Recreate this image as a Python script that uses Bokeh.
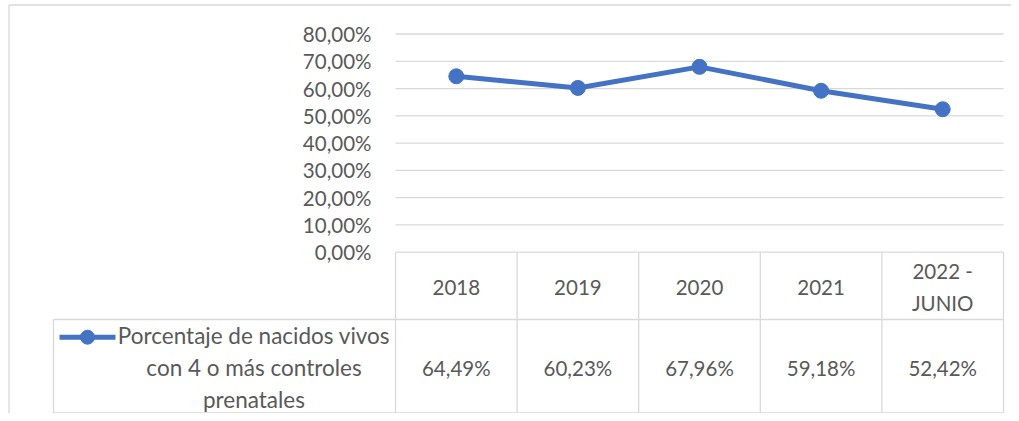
from bokeh.plotting import figure
from bokeh.models import ColumnDataSource, Range1d
from bokeh.core.properties import value
from bokeh.embed import file_html
from bokeh.resources import INLINE

# ---- data ----
categories = ["2018", "2019", "2020", "2021", "2022 -\nJUNIO"]
values = [64.49, 60.23, 67.96, 59.18, 52.42]
value_labels = ["64,49%", "60,23%", "67,96%", "59,18%", "52,42%"]
series_name = "Porcentaje de nacidos vivos\ncon 4 o más controles\nprenatales"
y_ticks = [0, 10, 20, 30, 40, 50, 60, 70, 80]
y_tick_labels = ["0,00%", "10,00%", "20,00%", "30,00%", "40,00%",
                 "50,00%", "60,00%", "70,00%", "80,00%"]

# ---- layout (pixels) ----
W, H = 1011, 413
PLOT_L, PLOT_R = 395.0, 1003.0      # plot / table column area
COLW = (PLOT_R - PLOT_L) / len(categories)
Y0 = 251.7                          # pixel row of 0 %
PPU = 2.7275                        # pixels per percent
ROW_DIV = 319.0                     # header / value row divider
BOTTOM = 412.5
LEG_L = 53.0

def dx(px):  # pixel column -> data x
    return -0.5 + (px - PLOT_L) / COLW

def dy(py):  # pixel row -> data y
    return (Y0 - py) / PPU

FONT = value("Lato")
TXT = "#595959"
GRID = "#D9D9D9"
BLUE = "#4472C4"
FS = "20.5px"

p = figure(width=W, height=H, output_backend="svg", toolbar_location=None,
           x_range=Range1d(dx(0), dx(W)), y_range=Range1d(dy(H), dy(0)),
           min_border=0)
p.axis.visible = False
p.grid.visible = False
p.outline_line_color = None
p.background_fill_color = "white"

n = len(categories)
xs = list(range(n))
left_x, right_x = -0.5, n - 0.5

# gridlines
gt = [t for t in y_ticks if t > 0]
p.segment(x0=[left_x] * len(gt), x1=[right_x] * len(gt), y0=gt, y1=gt,
          line_color=GRID, line_width=1.3)

# y tick labels
p.text(x=[left_x] * len(y_ticks), y=y_ticks, text=y_tick_labels,
       x_offset=-24, text_align="right", text_baseline="middle",
       text_font=FONT, text_font_size=FS, text_color=TXT)

# outer frame (top & left)
p.segment(x0=[dx(8.5), dx(8.5)], x1=[dx(8.5), dx(W)], y0=[dy(H), dy(4.5)],
          y1=[dy(4.5), dy(4.5)], line_color=GRID, line_width=1.3)

# table lines
ydiv, ybot = dy(ROW_DIV), dy(BOTTOM)
xl = dx(LEG_L)
hx0 = [left_x, xl, xl]
hx1 = [right_x, right_x, right_x]
hy = [0, ydiv, ybot]
p.segment(x0=hx0, x1=hx1, y0=hy, y1=hy, line_color=GRID, line_width=1.3)
vx = [i - 0.5 for i in range(n + 1)]
p.segment(x0=vx, x1=vx, y0=[0] * len(vx), y1=[ybot] * len(vx),
          line_color=GRID, line_width=1.3)
p.segment(x0=[xl], x1=[xl], y0=[ydiv], y1=[ybot], line_color=GRID, line_width=1.3)

# header labels and values
p.text(x=xs, y=[dy(286.5)] * n, text=categories, text_align="center",
       text_baseline="middle", text_font=FONT, text_font_size=FS,
       text_color=TXT, text_line_height=1.30)
p.text(x=xs, y=[dy(367.5)] * n, text=value_labels, text_align="center",
       text_baseline="middle", text_font=FONT, text_font_size=FS, text_color=TXT)

# legend
p.text(x=[dx(253.5)], y=[dy(367.0)], text=[series_name], text_align="center",
       text_baseline="middle", text_font=FONT, text_font_size="22.5px",
       text_color=TXT, text_line_height=1.20)
ly = dy(336.7)
p.line(x=[dx(59), dx(115)], y=[ly, ly], line_color=BLUE, line_width=5)
p.scatter(x=[dx(87)], y=[ly], size=14, color=BLUE)

# series
src = ColumnDataSource(dict(x=xs, y=values))
p.line("x", "y", source=src, line_color=BLUE, line_width=5)
p.scatter("x", "y", source=src, size=15, color=BLUE)

open("out.html", "w").write(file_html(p, INLINE))
